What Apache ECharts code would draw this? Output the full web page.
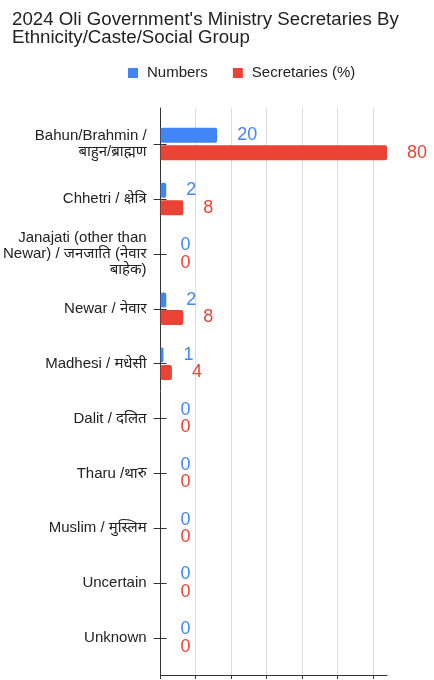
<!DOCTYPE html>
<html>
<head>
<meta charset="utf-8">
<script src="https://cdn.jsdelivr.net/npm/echarts@6/dist/echarts.min.js"></script>
<style>
html,body{margin:0;padding:0;background:#fff;}
#chart{width:434px;height:680px;}
</style>
</head>
<body>
<div id="chart"></div>
<script>
const categories = [
  'Bahun/Brahmin /\nबाहुन/ब्राह्मण',
  'Chhetri / क्षेत्रि',
  'Janajati (other than\nNewar) / जनजाति (नेवार\nबाहेक)',
  'Newar / नेवार',
  'Madhesi / मधेसी',
  'Dalit / दलित',
  'Tharu /थारु',
  'Muslim / मुस्लिम',
  'Uncertain',
  'Unknown'
];
const numbers = [20, 2, 0, 2, 1, 0, 0, 0, 0, 0];
const secretariesPct = [80, 8, 0, 8, 4, 0, 0, 0, 0, 0];
const seriesNames = ['Numbers', 'Secretaries (%)'];
const dataMax = 80;
const gridMax = 75;
const tickStep = 12.5;

const FONT = "'Liberation Sans', Arial, 'Noto Sans', sans-serif";
const BLUE = '#4285f4';
const RED = '#ea4335';

const chart = echarts.init(document.getElementById('chart'), null, {renderer: 'canvas'});
chart.setOption({
  backgroundColor: '#fff',
  animation: false,
  textStyle: {fontFamily: FONT},
  title: {
    text: "2024 Oli Government's Ministry Secretaries By\nEthnicity/Caste/Social Group",
    left: 12, top: 11, padding: 0,
    textStyle: {fontSize: 18.7, fontWeight: 'normal', color: '#222', lineHeight: 18, fontFamily: FONT}
  },
  legend: {
    data: seriesNames,
    left: 128, top: 65.5, padding: 0,
    icon: 'rect', itemWidth: 10, itemHeight: 10, itemGap: 25,
    textStyle: {fontSize: 15, color: '#222', fontFamily: FONT, padding: [0, 0, 0, 4]}
  },
  grid: [
    {left: 160, width: 213, top: 108, height: 567, containLabel: false},
    {left: 160, width: 227, top: 116.6, height: 549, containLabel: false}
  ],
  xAxis: [
    {
      gridIndex: 0, type: 'value', min: 0, max: gridMax, interval: tickStep,
      axisLine: {show: false, onZero: false},
      axisTick: {show: true, length: 4, lineStyle: {color: '#333'}},
      axisLabel: {show: false},
      splitLine: {show: true, showMinLine: false, lineStyle: {color: '#dcdcdc', width: 1}}
    },
    {
      gridIndex: 1, type: 'value', min: 0, max: dataMax, offset: 9.4,
      axisLine: {show: true, onZero: false, lineStyle: {color: '#333', width: 1}},
      axisTick: {show: false},
      axisLabel: {show: false},
      splitLine: {show: false}
    }
  ],
  yAxis: [
    {
      gridIndex: 0, type: 'value', min: 0, max: 1, position: 'left',
      axisLine: {show: true, onZero: false, lineStyle: {color: '#333', width: 1}},
      axisTick: {show: false},
      axisLabel: {show: false},
      splitLine: {show: false}
    },
    {
      gridIndex: 1, type: 'category', data: categories, inverse: true, position: 'left', offset: -6,
      axisLine: {show: false, onZero: false},
      axisTick: {show: true, alignWithLabel: true, length: 13, lineStyle: {color: '#333'}},
      axisLabel: {fontSize: 15, color: '#222', lineHeight: 16, margin: 20, fontFamily: FONT, align: 'right'}
    }
  ],
  series: [
    {
      name: seriesNames[0], type: 'bar', xAxisIndex: 1, yAxisIndex: 1,
      data: numbers, barWidth: 15, barGap: '17%',
      itemStyle: {color: BLUE, borderRadius: 2},
      label: {show: true, position: 'right', distance: 20, fontSize: 18, color: BLUE, fontFamily: FONT}
    },
    {
      name: seriesNames[1], type: 'bar', xAxisIndex: 1, yAxisIndex: 1,
      data: secretariesPct, barWidth: 15, barGap: '17%',
      itemStyle: {color: RED, borderRadius: 2},
      label: {show: true, position: 'right', distance: 20, fontSize: 18, color: RED, fontFamily: FONT}
    }
  ]
});
</script>
</body>
</html>
